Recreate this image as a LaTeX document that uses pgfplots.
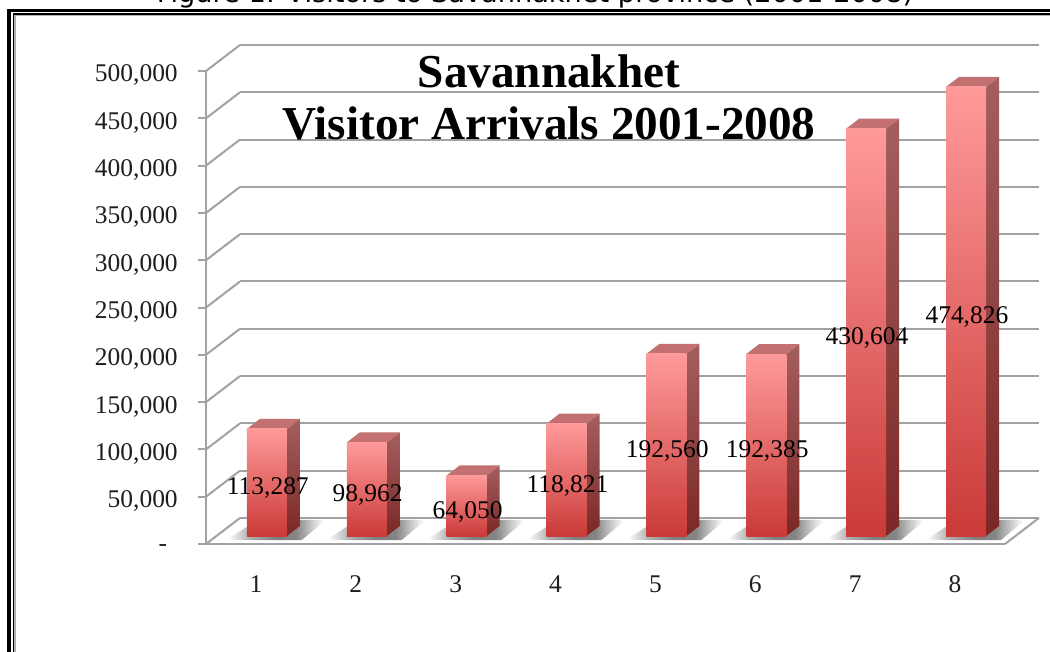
\documentclass[border=0pt]{standalone}
\usepackage{pgfplots}
\pgfplotsset{compat=1.18}
\usepackage{fontspec}
\setmainfont{Liberation Serif}
\newfontfamily\capfont{DejaVu Sans}
\definecolor{gridgray}{HTML}{A2A2A2}
\definecolor{ticktext}{HTML}{1E1E1E}
\tikzset{
 px font/.style={font=\fontsize{19.1pt}{22pt}\selectfont},
}
\definecolor{sidetop}{HTML}{A35F5F}
\definecolor{sidebot}{HTML}{7C2725}
\definecolor{topface}{HTML}{C27070}
\definecolor{fronttop}{HTML}{FF9A9A}
\definecolor{frontbot}{HTML}{C93A38}
\pgfdeclarehorizontalshading{floorshadow}{100bp}{color(0bp)=(white); color(26bp)=(white); color(37bp)=(black!32); color(50bp)=(black!50); color(60bp)=(black!48); color(74bp)=(white); color(100bp)=(white)}
\pgfplotsset{frontface/.style={forget plot,ybar,bar width=30pt,bar shift=0pt,xshift=8.25pt,yshift=6pt,draw=none,top color=fronttop,bottom color=frontbot}}
% one column: category, value
\newcommand\barbody[2]{%
 \pgfmathsetmacro\xl{#1-0.2}\pgfmathsetmacro\xr{#1+0.2}%
 \pgfmathsetmacro\xlb{#1-0.07}\pgfmathsetmacro\xrb{#1+0.33}%
 \edef\yb{\the\numexpr#2+10570\relax}%
 \edef\tmp{\noexpand\addplot[forget plot,no marks,draw=none,xshift=8.25pt,yshift=6pt,top color=sidetop,bottom color=sidebot] coordinates {(\xr,0) (\xrb,10570) (\xrb,\yb) (\xr,#2) (\xr,0)};
 \noexpand\addplot[forget plot,no marks,draw=none,xshift=8.25pt,yshift=6pt,fill=topface] coordinates {(\xl,#2) (\xr,#2) (\xrb,\yb) (\xlb,\yb) (\xl,#2)};}%
 \tmp}
\newcommand\barshadow[1]{%
 \pgfmathsetmacro\xa{#1-0.30}\pgfmathsetmacro\xb{#1+0.46}%
 \pgfmathsetmacro\xc{#1+0.70}\pgfmathsetmacro\xd{#1+0.02}%
 \edef\tmp{\noexpand\addplot[forget plot,no marks,draw=none,shade,shading=floorshadow] coordinates {(\xa,4200) (\xb,4200) (\xc,25500) (\xd,25500) (\xa,4200)};}%
 \tmp}
\begin{document}
\begin{tikzpicture}
\path[use as bounding box,fill=white] (0,0) rectangle (787.5pt,488.25pt);
\begin{axis}[
 at={(154.5pt,80.25pt)},anchor=origin,
 scale only axis,width=599.25pt,height=354.75pt,
 xmin=0.5,xmax=8.5,ymin=0,ymax=500000,clip=false,
 scaled y ticks=false,
 axis lines=left,axis line style={-,gridgray,line width=1.5pt},
 tick align=outside,major tick length=6pt,
 every tick/.style={gridgray,line width=1.5pt},
 xtick={1,2,3,4,5,6,7,8},xticklabels={1,2,3,4,5,6,7,8},
 xtick style={draw=none},
 extra x ticks={0.5,1.5,2.5,3.5,4.5,5.5,6.5,7.5,8.5},
 extra x tick labels={},
 extra x tick style={tick style={draw=gridgray,line width=1.5pt}},
 ytick={0,50000,100000,150000,200000,250000,300000,350000,400000,450000,500000},
 yticklabels={{-\hspace*{8pt}},{50,000},{100,000},{150,000},{200,000},{250,000},{300,000},{350,000},{400,000},{450,000},{500,000}},
 tick label style={px font,text=ticktext},
 yticklabel style={inner sep=0pt,anchor=east,xshift=-15pt,yshift=-3.3pt},
 xticklabel style={inner sep=0pt,anchor=center,yshift=-24.25pt},
]
% back wall and floor
\pgfplotsinvokeforeach{27500,77500,127500,177500,227500,277500,327500,377500,427500,477500,527500}{%
 \addplot[forget plot,no marks,gridgray,line width=1.5pt] coordinates {(0.84,#1) (8.84,#1)};}
\addplot[forget plot,no marks,gridgray,line width=1.5pt] coordinates {(0.5,0) (0.84,27500)};
\addplot[forget plot,no marks,gridgray,line width=1.5pt] coordinates {(0.5,50000) (0.84,77500)};
\addplot[forget plot,no marks,gridgray,line width=1.5pt] coordinates {(0.5,100000) (0.84,127500)};
\addplot[forget plot,no marks,gridgray,line width=1.5pt] coordinates {(0.5,150000) (0.84,177500)};
\addplot[forget plot,no marks,gridgray,line width=1.5pt] coordinates {(0.5,200000) (0.84,227500)};
\addplot[forget plot,no marks,gridgray,line width=1.5pt] coordinates {(0.5,250000) (0.84,277500)};
\addplot[forget plot,no marks,gridgray,line width=1.5pt] coordinates {(0.5,300000) (0.84,327500)};
\addplot[forget plot,no marks,gridgray,line width=1.5pt] coordinates {(0.5,350000) (0.84,377500)};
\addplot[forget plot,no marks,gridgray,line width=1.5pt] coordinates {(0.5,400000) (0.84,427500)};
\addplot[forget plot,no marks,gridgray,line width=1.5pt] coordinates {(0.5,450000) (0.84,477500)};
\addplot[forget plot,no marks,gridgray,line width=1.5pt] coordinates {(0.5,500000) (0.84,527500)};
\addplot[forget plot,no marks,gridgray,line width=1.5pt] coordinates {(8.5,0) (8.84,27500)};
% shadows
\barshadow{1}\barshadow{2}\barshadow{3}\barshadow{4}\barshadow{5}\barshadow{6}\barshadow{7}\barshadow{8}
% side and top faces
\barbody{1}{113287}\barbody{2}{98962}\barbody{3}{64050}\barbody{4}{118821}
\barbody{5}{192560}\barbody{6}{192385}\barbody{7}{430604}\barbody{8}{474826}
% front faces, one plot per bar so that each has its own gradient
\addplot[frontface] coordinates {(1,113287)};
\addplot[frontface] coordinates {(2,98962)};
\addplot[frontface] coordinates {(3,64050)};
\addplot[frontface] coordinates {(4,118821)};
\addplot[frontface] coordinates {(5,192560)};
\addplot[frontface] coordinates {(6,192385)};
\addplot[frontface] coordinates {(7,430604)};
\addplot[frontface] coordinates {(8,474826)};
% value labels
\begin{scope}[every node/.style={px font,text=black,inner sep=0pt,xshift=8.9pt,yshift=1.5pt}]
\node at (axis cs:1,56644) {113,287};
\node at (axis cs:2,49481) {98,962};
\node at (axis cs:3,32025) {64,050};
\node at (axis cs:4,59410) {118,821};
\node at (axis cs:5,96280) {192,560};
\node at (axis cs:6,96192) {192,385};
\node at (axis cs:7,215302) {430,604};
\node at (axis cs:8,237413) {474,826};
\end{scope}
\end{axis}
% frame, title, caption drawn in image pixels
\begin{scope}[x=0.75pt,y=-0.75pt,yshift=488.25pt]
\clip (0,0) rectangle (1050,651);
\fill[black] (7,9) rectangle (11,660);
\fill[black] (7,9) rectangle (1060,12.4);
\fill[black] (12.6,13.4) rectangle (14.4,660);
\fill[black] (12.6,13.4) rectangle (1060,15);
\fill[gray!60] (14.4,15) rectangle (16,660);
\fill[gray!60] (14.4,15) rectangle (1060,16.3);
\node[font=\capfont\fontsize{20.4pt}{22pt}\selectfont,anchor=base,inner sep=0pt,text=black] at (535,3) {Figure 1: Visitors to Savannakhet province (2001-2008)};
\node[font=\bfseries\fontsize{35.4pt}{39pt}\selectfont,anchor=center,inner sep=0pt,align=center] at (549,97) {Savannakhet\\Visitor Arrivals 2001-2008};
\end{scope}
\end{tikzpicture}
\end{document}
